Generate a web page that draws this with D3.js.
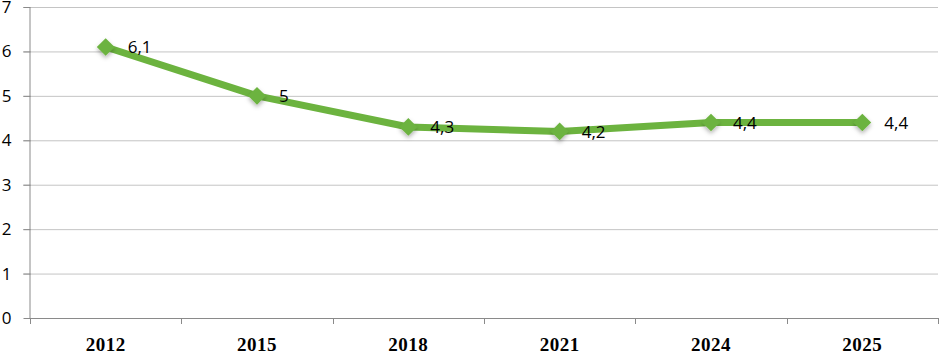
<!DOCTYPE html>
<html><head><meta charset="utf-8">
<script src="https://cdn.jsdelivr.net/npm/d3@7"></script>
<style>body{margin:0;background:#fff}svg{display:block}</style>
</head><body>
<svg id="c" width="939" height="353"></svg>
<script>
const categories = ["2012","2015","2018","2021","2024","2025"];
const values = [6.1, 5, 4.3, 4.2, 4.4, 4.4];
const valueLabels = ["6,1","5","4,3","4,2","4,4","4,4"];
const yTicks = [0,1,2,3,4,5,6,7];

const svg = d3.select("#c");
const x = d3.scaleBand().domain(categories).range([30, 938]);
const y = d3.scaleLinear().domain([0, 7]).range([318, 7]);
const green = "#6cb33f";

const defs = svg.append("defs");
const f = defs.append("filter").attr("id","sh").attr("x","-60%").attr("y","-60%").attr("width","220%").attr("height","220%");
f.append("feDropShadow").attr("dx",0).attr("dy",2.5).attr("stdDeviation",2).attr("flood-color","#000").attr("flood-opacity",0.3);

// gridlines
svg.append("g").selectAll("line").data(yTicks.filter(d=>d>0)).join("line")
  .attr("x1", 23).attr("x2", 938).attr("y1", d=>y(d)+0.5).attr("y2", d=>y(d)+0.5)
  .attr("stroke", "#c4c4c4").attr("stroke-width", 1);

// y axis
const ya = svg.append("g").attr("transform","translate(30.5,0)")
  .call(d3.axisLeft(y).tickValues(yTicks).tickSize(7).tickPadding(12).tickFormat(d3.format("d")));
ya.select(".domain").attr("stroke","#8a8a8a").attr("d", `M-0.5,${y(7)+0.5}V${y(0)}`);
ya.selectAll(".tick line").attr("stroke","#8a8a8a");
ya.selectAll(".tick text").attr("font-family","'Open Sans', sans-serif").attr("font-size",17).attr("fill","#000");

// x axis
const boundaries = categories.map(c=>x(c)).concat([x.range()[1]]);
svg.append("line").attr("x1",30).attr("x2",938).attr("y1",y(0)+0.5).attr("y2",y(0)+0.5).attr("stroke","#8a8a8a");
svg.append("g").selectAll("line").data(boundaries).join("line")
  .attr("x1",d=>Math.round(d)+0.5).attr("x2",d=>Math.round(d)+0.5)
  .attr("y1",y(0)).attr("y2",y(0)+6).attr("stroke","#8a8a8a");
svg.append("g").selectAll("text").data(categories).join("text")
  .attr("x", d=>x(d)+x.bandwidth()/2).attr("y", 351)
  .attr("text-anchor","middle").attr("font-family","'Liberation Serif', serif")
  .attr("font-weight","bold").attr("font-size",19).attr("letter-spacing",0.5).text(d=>d);

const cx = (d,i)=>x(categories[i])+x.bandwidth()/2;
// line
svg.append("path").datum(values)
  .attr("d", d3.line().x((d,i)=>cx(d,i)).y(d=>y(d)))
  .attr("fill","none").attr("stroke",green).attr("stroke-width",7).attr("stroke-linejoin","round");

// markers
svg.append("g").selectAll("path").data(values).join("path")
  .attr("transform",(d,i)=>`translate(${cx(d,i)},${y(d)})`)
  .attr("d", d3.symbol(d3.symbolDiamond2, 200)())
  .attr("fill",green).attr("filter","url(#sh)");

// labels
svg.append("g").selectAll("text").data(values).join("text")
  .attr("x",(d,i)=>cx(d,i)+22).attr("y",d=>y(d)).attr("dy","0.36em")
  .attr("font-family","'Open Sans', sans-serif").attr("font-size",17).attr("fill","#000")
  .text((d,i)=>valueLabels[i]);
</script>
</body></html>
